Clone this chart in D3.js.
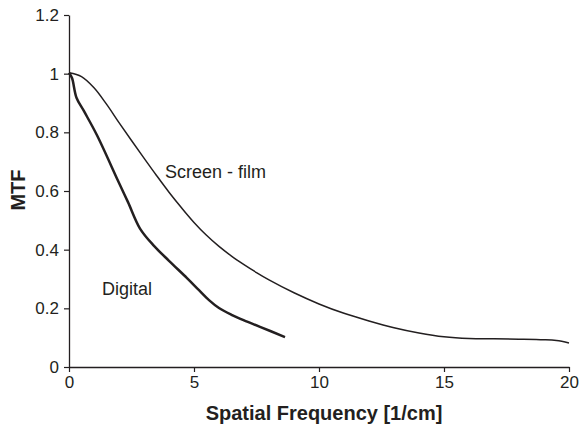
<!DOCTYPE html>
<html>
<head>
<meta charset="utf-8">
<script src="https://cdn.jsdelivr.net/npm/d3@7"></script>
<style>
  body { margin: 0; background: #fff; }
  svg { font-family: "Liberation Sans", Arial, sans-serif; }
</style>
</head>
<body>
<div id="chart"></div>
<script>
// values (frequency in 1/cm, MTF)
const screenFreq = [0, 0.5, 1, 1.5, 2, 2.5, 3, 3.5, 4, 4.5, 5, 5.5, 6, 6.5, 7, 7.5, 8, 9, 10, 11, 12, 13, 14, 15, 16, 17, 18, 19, 19.5, 20];
const screenMtf  = [1.003, 0.99, 0.952, 0.896, 0.833, 0.772, 0.712, 0.653, 0.596, 0.543, 0.493, 0.449, 0.411, 0.378, 0.349, 0.322, 0.297, 0.253, 0.215, 0.183, 0.157, 0.134, 0.116, 0.103, 0.097, 0.096, 0.095, 0.093, 0.09, 0.082];

const digitalFreq = [0, 0.12, 0.3, 0.6, 1.12, 1.96, 2.36, 2.84, 3.4, 4.0, 4.72, 5.2, 5.6, 6.0, 6.5, 7.0, 7.64, 8.64];
const digitalMtf  = [1.003, 0.985, 0.918, 0.872, 0.79, 0.635, 0.562, 0.472, 0.413, 0.362, 0.303, 0.262, 0.228, 0.201, 0.178, 0.159, 0.137, 0.102];

const xTicks = [0, 5, 10, 15, 20];
const yTicks = [0, 0.2, 0.4, 0.6, 0.8, 1, 1.2];

const width = 581;
const height = 427;
const margin = { left: 69, right: 12, top: 15, bottom: 60 };

const svg = d3.select("#chart")
  .append("svg")
  .attr("width", width)
  .attr("height", height);

const x = d3.scaleLinear()
  .domain([0, 20])
  .range([margin.left, width - margin.right]);

const y = d3.scaleLinear()
  .domain([0, 1.2])
  .range([height - margin.bottom, margin.top]);

const ink = "#231f20";

// axes
const xAxis = svg.append("g")
  .attr("transform", `translate(0,${y(0)})`)
  .call(d3.axisBottom(x).tickValues(xTicks).tickSize(5).tickPadding(4).tickSizeOuter(0));

const yAxis = svg.append("g")
  .attr("transform", `translate(${x(0)},0)`)
  .call(d3.axisLeft(y).tickValues(yTicks).tickFormat(d3.format("")).tickSize(5).tickPadding(5).tickSizeOuter(0));

[xAxis, yAxis].forEach(g => {
  g.select(".domain").attr("stroke", ink).attr("stroke-width", 1.3);
  g.selectAll(".tick line").attr("stroke", ink).attr("stroke-width", 1.2);
  g.selectAll(".tick text")
    .attr("fill", ink)
    .style("font-size", "17px");
});

// curves
const line = d3.line()
  .x(d => x(d[0]))
  .y(d => y(d[1]))
  .curve(d3.curveCatmullRom.alpha(0.5));

svg.append("path")
  .datum(d3.zip(screenFreq, screenMtf))
  .attr("fill", "none")
  .attr("stroke", ink)
  .attr("stroke-width", 1.5)
  .attr("d", line);

svg.append("path")
  .datum(d3.zip(digitalFreq, digitalMtf))
  .attr("fill", "none")
  .attr("stroke", ink)
  .attr("stroke-width", 2.5)
  .attr("stroke-linejoin", "round")
  .attr("d", line);

// curve labels
svg.append("text")
  .attr("x", x(3.84))
  .attr("y", y(0.645))
  .attr("fill", ink)
  .style("font-size", "18px")
  .text("Screen - film");

svg.append("text")
  .attr("x", x(1.32))
  .attr("y", y(0.245))
  .attr("fill", ink)
  .style("font-size", "18px")
  .text("Digital");

// axis titles
svg.append("text")
  .attr("x", 324)
  .attr("y", 420)
  .attr("text-anchor", "middle")
  .attr("fill", ink)
  .style("font-size", "20px")
  .style("font-weight", "bold")
  .text("Spatial Frequency [1/cm]");

svg.append("text")
  .attr("transform", "rotate(-90)")
  .attr("x", -190)
  .attr("y", 25)
  .attr("text-anchor", "middle")
  .attr("fill", ink)
  .style("font-size", "20px")
  .style("font-weight", "bold")
  .text("MTF");
</script>
</body>
</html>
